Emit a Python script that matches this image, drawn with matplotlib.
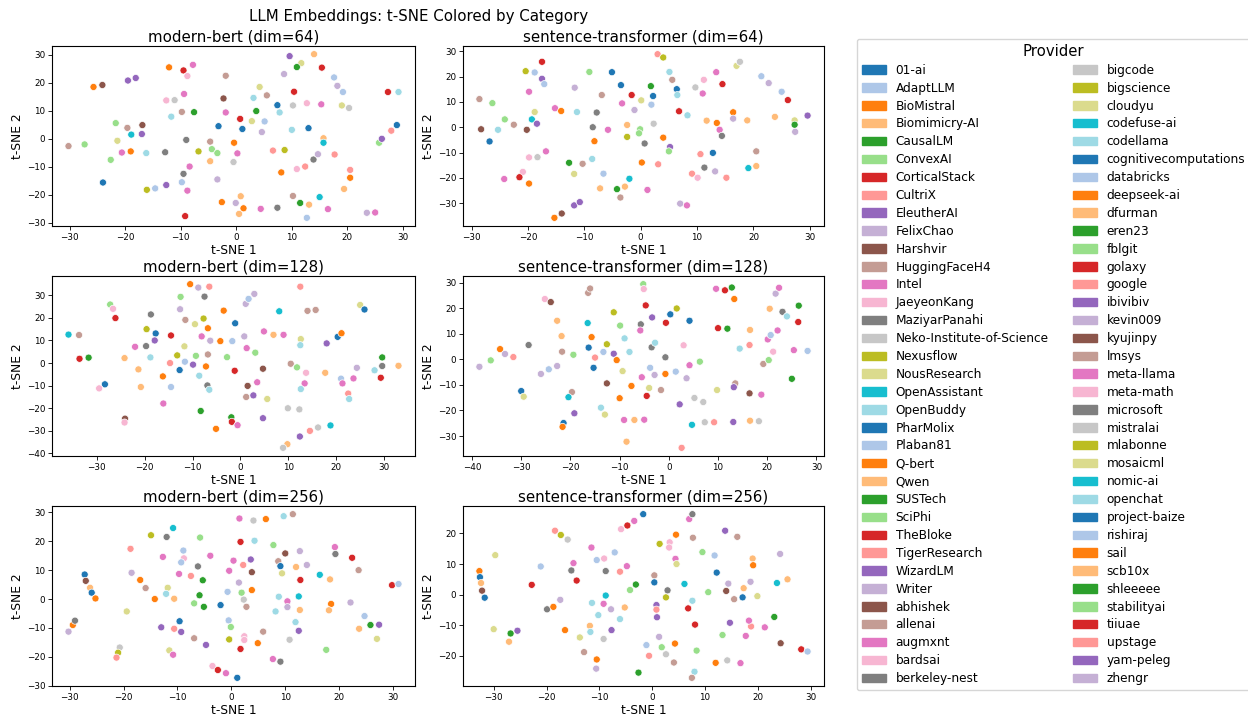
import numpy as np
import matplotlib
matplotlib.use("Agg")
import matplotlib.pyplot as plt
import matplotlib.patches as mpatches

# providers, colored with tab20 cycling over the list
providers = ["01-ai", "AdaptLLM", "BioMistral", "Biomimicry-AI", "CausalLM", "ConvexAI",
             "CorticalStack", "CultriX", "EleutherAI", "FelixChao", "Harshvir", "HuggingFaceH4",
             "Intel", "JaeyeonKang", "MaziyarPanahi", "Neko-Institute-of-Science", "Nexusflow",
             "NousResearch", "OpenAssistant", "OpenBuddy", "PharMolix", "Plaban81", "Q-bert",
             "Qwen", "SUSTech", "SciPhi", "TheBloke", "TigerResearch", "WizardLM", "Writer",
             "abhishek", "allenai", "augmxnt", "bardsai", "berkeley-nest", "bigcode", "bigscience",
             "cloudyu", "codefuse-ai", "codellama", "cognitivecomputations", "databricks",
             "deepseek-ai", "dfurman", "eren23", "fblgit", "golaxy", "google", "ibivibiv",
             "kevin009", "kyujinpy", "lmsys", "meta-llama", "meta-math", "microsoft", "mistralai",
             "mlabonne", "mosaicml", "nomic-ai", "openchat", "project-baize", "rishiraj", "sail",
             "scb10x", "shleeeee", "stabilityai", "tiiuae", "upstage", "yam-peleg", "zhengr"]

# one letter per point -> provider index (position in this string)
codes_key = "BbOoGgRrPpNnKkYyLlCc"

# modern-bert dim=64
mb64_x = [-30.2,-27.3,-25.7,-24.1,-19.5,-18.1,-12.1,-9.5,-7.8,-8.8,-1.9,9.6,11.7,10.9,14.0,15.4,8.6,17.6,18.2,19.2,
          27.3,29.2,19.0,20.3,15.3,12.7,10.2,10.4,5.5,4.2,3.1,3.6,7.4,7.8,2.8,5.1,4.6,10.0,13.0,0.7,
          1.1,-2.3,-1.9,-3.2,-0.4,-4.7,-4.4,-3.4,0.2,-4.7,-0.5,-6.8,-9.0,-7.6,-9.4,-9.8,-11.7,-12.6,-11.1,-16.9,
          -19.6,-21.7,-21.4,-18.9,-17.0,-20.6,-19.0,-16.2,-22.6,-12.8,-24.0,-16.1,-14.6,-12.6,-9.8,-9.5,-8.4,-8.8,-9.2,-3.4,
          -2.6,-0.1,0.8,1.3,0.5,4.4,7.4,8.1,6.6,8.7,10.9,12.4,13.9,14.7,17.7,15.7,15.7,10.2,11.5,13.1,
          12.7,15.0,16.5,19.4,20.5,20.5,23.5,25.0,25.7,26.2,27.9,28.9]
mb64_y = [-2.6,-2.0,18.5,19.2,20.8,21.7,25.5,24.4,26.4,22.4,22.5,29.5,27.0,25.6,30.2,25.4,23.1,21.9,18.9,16.7,
          16.7,16.7,11.9,11.0,12.3,12.7,11.9,16.8,15.5,18.5,14.6,9.9,12.0,9.4,6.3,6.2,2.4,3.2,3.8,7.1,
          3.5,14.4,9.4,4.5,-1.4,-1.0,-3.7,-5.1,-5.2,-8.0,-8.3,-4.5,-0.4,9.5,16.0,9.6,7.9,13.7,13.8,4.9,
          3.9,5.6,-0.7,1.5,1.7,-4.9,-4.5,-5.1,-7.5,-4.8,-15.6,-18.2,-17.7,-16.5,-15.5,-12.5,-9.9,-18.5,-27.6,-14.5,
          -22.6,-22.9,-20.5,-24.8,-26.8,-25.0,-24.6,-12.0,-4.2,-4.0,-10.8,-9.9,-7.4,-5.5,-5.6,0.2,-1.4,-20.4,-22.9,-23.5,
          -28.2,-20.8,-25.1,-17.9,-13.9,-11.1,-26.4,-26.3,-1.4,0.0,2.9,4.9]
mb64_c = ("ngONPPORKk" "nPlGoRpbpb" "RclyKkyRnl" "cGBclbpcBR" "BNKBOnggKo" "yLYGKnckyN"
          "nglCPKOcgY" "BLbPbYKKRp" "OpoOoKYOrL" "krYproCnGo" "bCKoOrpKgP" "rB")

# sentence-transformer dim=64
st64_x = [-28.6,-28.3,-26.8,-26.3,-24.1,-25.3,-22.5,-20.4,-18.8,-17.5,-17.5,-17.1,-19.8,-18.8,-19.3,-18.4,-20.2,-16.8,-19.8,-18.3,
          -20.9,-24.2,-21.5,-19.8,-15.2,-14.1,-11.7,-11.3,-9.1,-6.9,-7.8,-8.5,-8.2,-5.8,-12.7,-11.8,-10.3,-8.6,-6.6,-7.2,
          -15.3,-14.0,-11.8,-10.8,-5.1,-3.5,-1.6,-3.3,-1.1,-2.4,0.1,-0.1,-0.3,-2.4,0.7,1.8,2.2,1.9,2.3,4.0,
          5.2,5.0,0.2,3.1,-2.0,-2.8,-4.2,-3.6,1.2,3.0,4.0,5.1,5.6,6.4,6.5,6.8,8.3,7.0,8.2,9.7,
          11.2,11.0,13.4,14.5,11.7,13.5,14.0,14.4,16.4,16.4,18.9,10.6,12.8,11.3,13.2,9.1,10.1,15.2,19.1,20.5,
          20.5,17.0,17.6,21.4,22.7,25.0,26.1,23.8,27.3,27.3,27.4,29.6]
st64_y = [11.1,-0.8,-5.6,9.5,3.1,-1.0,1.0,22.1,21.6,25.8,19.1,17.0,14.0,6.0,3.1,1.4,-1.0,-9.5,-11.9,-11.8,
          -17.6,-20.4,-19.7,-22.2,7.5,6.4,15.6,6.0,21.8,12.7,5.8,0.0,-5.5,-1.0,-14.0,-18.4,-14.4,-12.5,-18.3,-24.1,
          -35.7,-34.0,-30.8,-29.5,21.7,16.6,12.7,9.4,6.8,0.9,10.6,-0.8,-2.4,-3.8,-6.4,16.2,12.3,8.9,1.4,-4.1,
          -7.8,-9.5,-13.9,-14.6,-20.3,-23.4,-24.4,-27.7,-24.7,28.8,27.5,21.8,18.7,15.0,12.7,6.3,4.7,-30.1,-30.8,15.7,
          18.7,13.3,21.7,17.0,2.6,1.7,-1.0,-3.4,5.9,3.4,2.7,-10.6,-10.1,-15.9,-17.4,-18.3,-19.9,-19.9,-16.1,-9.5,
          -15.3,24.2,25.8,20.1,17.4,14.0,10.7,4.1,2.7,1.0,-1.8,4.6]
st64_c = ("nNBggcnLbR" "PbKlCPNKky" "kKROKOpcgn" "YYOKGlncbo" "ONPPBBRKpo" "lggLYGBbyO"
          "PgOrCoGnKr" "LcnBcRcpKy" "kKKRoOKYOp" "orBYprkrCn" "olybpbRolG" "pP")

# modern-bert dim=128
mb128_x = [-35.9,-33.7,-33.6,-31.7,-27.2,-26.6,-26.1,-28.3,-29.5,-24.2,-21.3,-22.0,-20.8,-19.6,-19.7,-18.7,-17.7,-17.9,-18.8,-14.5,
           -16.2,-14.7,-14.5,-12.5,-12.6,-11.5,-11.7,-13.2,-12.7,-11.6,-10.5,-8.8,-6.5,-7.5,-9.5,-7.7,-6.8,-8.1,-6.3,-9.3,
           -9.9,-6.8,-7.2,-8.6,-6.9,-6.5,-8.3,-3.5,-4.2,-2.8,-1.7,-1.1,-1.2,1.1,1.7,2.9,0.8,1.3,3.1,1.5,
           1.2,2.7,3.5,4.7,4.9,5.6,6.9,8.1,9.0,10.5,11.8,13.7,12.5,14.0,15.7,12.6,12.5,13.4,12.6,18.0,
           17.7,20.3,21.1,21.0,21.3,23.6,24.3,25.0,25.9,28.0,29.6,29.6,29.3,33.0,22.5,22.7,9.9,12.3,-16.1,-24.1,
           -24.2,-1.9,-1.8,-0.6,-5.1,4.7,12.4,14.5,16.2,18.8,9.8,8.9]
mb128_y = [12.6,12.4,1.9,2.4,25.9,24.0,19.9,-9.4,-11.2,2.2,-2.8,7.2,-10.6,15.0,7.5,21.5,13.1,10.0,2.5,12.2,
           -5.9,0.0,-10.6,29.3,23.8,19.1,7.4,3.4,-3.1,0.6,34.9,33.4,33.8,29.4,17.2,19.7,15.4,11.8,9.9,3.2,
           -0.7,3.8,-1.5,-5.6,-9.9,-11.8,-21.2,23.2,9.7,2.6,9.7,17.6,-3.4,26.2,28.4,30.6,11.8,6.6,4.6,-10.1,
           -15.0,-14.3,-8.5,-2.5,14.0,-15.9,12.5,22.9,12.5,-0.3,-1.9,-4.3,33.8,23.1,23.5,10.6,7.9,-9.0,-11.5,8.7,
           -4.3,11.6,13.2,-6.9,-9.0,-6.8,-2.1,25.7,23.7,-3.2,2.5,-1.3,-6.5,-1.2,-13.5,-15.9,-20.0,-20.5,-17.9,-24.6,
           -26.3,-24.0,-26.0,-27.5,-29.1,-24.4,-32.5,-30.0,-28.5,-27.6,-35.9,-37.5]
mb128_c = ("CnRGgkRBko" "oKoLYYBPcR" "OrbgpnlLBb" "OprYlLOKpg" "PnOcYcGOOg" "bBRpbppKgN"
           "nPKNKloCKn" "gkrnnlcKcP" "oBObKKplBc" "GYRorcyyKN" "kGRKOPPryC" "oy")

# sentence-transformer dim=128
st128_x = [-38.5,-36.2,-34.3,-33.3,-31.6,-28.5,-30.0,-29.5,-25.2,-24.0,-22.7,-21.8,-21.7,-19.4,-26.0,-24.4,-22.7,-19.7,-20.4,-19.2,
           -16.4,-16.0,-16.5,-15.7,-16.3,-15.3,-15.0,-11.2,-9.9,-12.6,-13.3,-11.2,-10.6,-9.4,-9.0,-8.0,-12.6,-7.6,-10.0,-13.8,
           -13.0,-5.2,-5.1,-4.7,-5.7,-5.8,-3.4,-3.5,-2.8,-3.8,-2.9,-5.5,-4.0,-4.5,-1.6,-0.7,-0.7,0.3,-0.6,1.6,
           2.2,4.2,3.0,1.4,4.2,3.6,6.3,5.2,7.0,9.6,11.4,12.8,13.3,10.0,11.9,9.8,13.5,13.2,14.4,16.4,
           16.5,16.4,18.8,19.2,20.3,20.1,20.7,21.2,20.5,22.1,23.1,24.0,21.7,22.4,26.4,26.3,25.4,28.2,25.0,-21.4,
           -21.6,-8.6,-9.1,-7.0,-5.0,4.7,7.3,9.2,13.1,16.5,18.3,2.6]
st128_y = [-2.9,-0.4,4.0,2.1,0.9,5.6,-12.4,-14.6,23.6,22.4,15.1,9.1,3.0,1.8,-5.7,-3.9,-2.6,-12.8,-14.8,-21.1,
           26.0,27.7,14.2,8.7,4.6,-3.3,0.7,18.4,13.2,5.9,2.9,2.2,-0.3,-4.6,8.2,2.9,-9.4,-10.4,-15.2,-18.9,
           -21.6,29.4,27.5,21.1,13.7,11.3,16.4,4.7,6.5,-3.3,-6.1,-7.0,-11.2,-14.3,-12.0,0.8,-5.7,17.6,14.3,19.9,
           -17.6,15.1,5.5,-4.8,-2.3,-7.4,-0.9,-15.1,-16.7,27.6,27.0,28.1,23.6,12.2,12.0,-12.0,-9.4,-10.9,4.2,5.6,
           11.5,-13.3,-13.8,-1.8,-0.3,7.8,9.5,3.0,19.8,11.3,18.6,16.8,25.7,28.0,21.0,14.6,3.6,3.3,-7.6,-24.9,
           -26.4,-32.2,-23.7,-23.7,-23.6,-25.6,-24.6,-24.6,-24.5,-24.0,-24.2,-34.6]
st128_c = ("pgOprYBlkN" "oongpbpnCP" "nnCOBBrLgL" "bPOlccNOOc" "lgkRYKPYcb" "pKlRnYOBRL"
           "PBkbKpgyyK" "RGORGlnPcr" "oNKngKbkoK" "YcpKGRKbGB" "OoKoKCyrPo" "yr")

# modern-bert dim=256
mb256_x = [-30.2,-29.4,-29.0,-27.2,-27.0,-26.2,-25.9,-25.2,-19.4,-20.7,-21.0,-21.3,-18.7,-18.5,-16.9,-15.9,-14.9,-14.2,-12.7,-13.0,
           -12.0,-10.8,-11.8,-12.1,-10.6,-10.6,-11.5,-10.8,-8.9,-8.8,-9.3,-9.7,-9.6,-9.3,-7.5,-5.8,-6.2,-5.3,-5.9,-6.9,
           -5.1,-6.9,-4.7,-3.9,-2.0,-3.5,-2.5,-1.0,1.1,1.5,4.1,6.4,9.7,11.4,1.7,4.3,7.8,0.4,-0.4,2.2,
           3.6,3.8,1.4,-0.7,1.9,3.8,2.3,2.8,-0.5,-0.1,-0.4,1.7,2.4,2.4,4.9,5.9,7.7,9.1,10.0,8.7,
           9.1,9.4,12.0,12.8,12.7,14.0,16.4,8.8,10.4,10.4,12.5,12.7,8.2,11.9,12.5,10.8,19.2,19.3,18.3,18.5,
           18.1,17.6,22.4,23.6,22.1,23.7,24.7,25.8,27.4,27.0,29.8,31.0]
mb256_y = [-11.3,-9.0,-7.5,8.5,6.3,3.9,2.2,0.2,-4.3,-16.8,-18.6,-20.3,17.4,9.1,6.6,3.8,22.1,0.0,14.6,-9.8,
           21.5,24.6,3.9,1.8,0.1,-10.3,-17.8,-19.3,16.8,14.1,12.7,8.7,-7.7,-11.4,8.0,21.3,11.3,6.5,1.3,-1.5,
           -2.7,-13.6,-15.9,15.0,-2.1,-23.2,-24.6,-25.7,-27.3,27.9,27.2,27.7,28.7,29.4,19.8,20.2,18.7,13.3,9.8,11.8,
           13.7,9.3,5.7,2.5,2.2,3.1,-0.2,-2.7,-7.4,-9.7,-14.0,-17.3,-12.9,-14.2,-15.3,-11.3,-20.8,-21.7,15.8,13.1,
           11.4,8.9,11.1,6.6,16.6,11.8,8.4,0.8,-0.8,-2.8,0.9,-3.8,-4.3,-8.0,-11.0,-14.1,18.0,15.6,6.8,-1.7,
           -3.9,-17.6,14.3,10.0,-1.2,-10.3,-5.9,-9.0,-8.9,-13.8,4.8,5.2]
mb256_c = ("pOYBNoBOly" "LrrpOnLOKP" "YClcorlKbk" "bKBPrgYGGg" "GnPKBkRKBK" "yOcnRcgKKr"
           "PNpbgOynbg" "LRkkOnKYNn" "BloRppCcKp" "CoccPyKYoO" "ogRnpobGPl" "Rb")

# sentence-transformer dim=256
st256_x = [-32.7,-32.6,-32.4,-32.2,-31.7,-29.7,-30.0,-26.8,-25.5,-27.1,-22.8,-21.1,-19.9,-18.7,-17.4,-18.4,-17.3,-16.0,-15.3,-14.9,
           -14.3,-16.5,-13.7,-12.9,-11.5,-10.5,-11.4,-10.2,-11.8,-11.7,-10.5,-10.6,-9.1,-8.8,-8.8,-9.2,-7.8,-9.2,-7.7,-7.1,
           -5.9,-4.7,-3.4,-1.7,-6.1,-4.8,-4.2,-3.1,-5.2,-6.1,-2.6,-1.1,-0.6,0.4,0.4,0.8,0.8,0.9,1.4,1.3,
           1.8,2.6,2.9,2.6,4.5,3.3,3.2,4.4,4.6,7.0,7.6,7.7,6.1,7.6,6.8,8.1,4.3,4.1,8.4,8.0,
           7.5,9.5,11.8,12.2,10.6,13.8,16.1,14.4,14.0,15.5,14.7,13.3,12.0,14.2,17.1,17.3,18.6,19.0,19.1,19.9,
           18.7,18.3,17.7,16.7,21.3,23.6,23.1,24.2,25.6,24.3,28.2,29.4]
st256_y = [7.7,5.7,3.8,1.3,-1.0,12.9,-11.3,-12.7,-11.8,-15.4,3.2,9.2,-4.8,-4.0,-1.7,20.9,19.5,18.0,7.9,10.3,
           4.6,-11.6,-14.0,-18.8,15.4,11.3,-2.7,-6.7,-10.2,-12.2,-21.2,-24.2,11.8,7.7,-0.3,-3.0,-4.8,-14.5,-11.6,13.8,
           21.4,22.6,24.1,26.3,7.5,9.3,1.5,3.3,-4.2,-8.0,-25.5,-16.5,-20.0,6.3,4.0,-3.4,-4.9,-7.4,16.6,-13.8,
           -17.2,-0.9,1.4,-19.5,19.6,17.1,15.4,11.7,10.0,24.7,26.3,18.6,3.5,-2.0,-4.5,-9.8,-16.0,-22.2,-18.3,-25.2,
           -27.2,13.9,12.8,7.2,0.8,20.9,18.9,3.6,1.2,-1.5,-9.2,-13.2,-22.3,-21.5,-0.9,2.1,4.2,11.8,9.6,-0.5,
           -10.4,-8.5,-13.5,-22.4,-10.7,3.8,-7.3,13.3,5.0,-15.9,-17.9,-18.6]
st256_c = ("OBoNBllGPo" "RbYOprLyYK" "ROlnKbccoc" "OpkYCKpyPb" "kRKBrKgGoc" "GbrnBPrPLp"
           "gLYyOkkKlK" "YnCcRROngc" "ngbBgPnpNn" "PgOyBopoOl" "rKKKKCGpoN" "Rb")

panels = [("modern-bert (dim=64)", mb64_x, mb64_y, mb64_c),
          ("sentence-transformer (dim=64)", st64_x, st64_y, st64_c),
          ("modern-bert (dim=128)", mb128_x, mb128_y, mb128_c),
          ("sentence-transformer (dim=128)", st128_x, st128_y, st128_c),
          ("modern-bert (dim=256)", mb256_x, mb256_y, mb256_c),
          ("sentence-transformer (dim=256)", st256_x, st256_y, st256_c)]

cmap = plt.get_cmap("tab20")
prov_colors = [cmap(i % 20) for i in range(len(providers))]

fig = plt.figure(figsize=(12.48, 7.14), dpi=100)
W, H = 1248.0, 714.0
lefts = [52, 463]
widths = [363, 361]
tops = [46, 276, 506]

for k, (title, xs, ys, cs) in enumerate(panels):
    n = min(len(xs), len(ys), len(cs))
    row, col = k // 2, k % 2
    ax = fig.add_axes([lefts[col] / W, 1 - (tops[row] + 180) / H, widths[col] / W, 180 / H])
    prov = [codes_key.index(ch) for ch in cs[:n]]
    cols = [prov_colors[p] for p in prov]
    ax.scatter(xs[:n], ys[:n], c=cols, s=26, edgecolors="white", linewidths=0.5)
    ax.set_title(title, fontsize=10.8, pad=3)
    ax.set_xlabel("t-SNE 1", fontsize=8.8, labelpad=1.5)
    ax.set_ylabel("t-SNE 2", fontsize=8.8, labelpad=2)
    ax.tick_params(labelsize=6.3, length=2.7, width=0.6, pad=2)
    for sp in ax.spines.values():
        sp.set_linewidth(0.8)

fig.text(418.6 / W, 1 - 17 / H, "LLM Embeddings: t-SNE Colored by Category",
         fontsize=10.8, ha="center", va="center")

handles = [mpatches.Patch(color=prov_colors[i], label=p) for i, p in enumerate(providers)]
fig.legend(handles=handles, loc="upper left", bbox_to_anchor=(857 / W, 1 - 39 / H),
           ncol=2, fontsize=8.7, title="Provider", title_fontsize=10.7,
           borderaxespad=0, labelspacing=0.405)

fig.savefig("out.png", dpi=100)
